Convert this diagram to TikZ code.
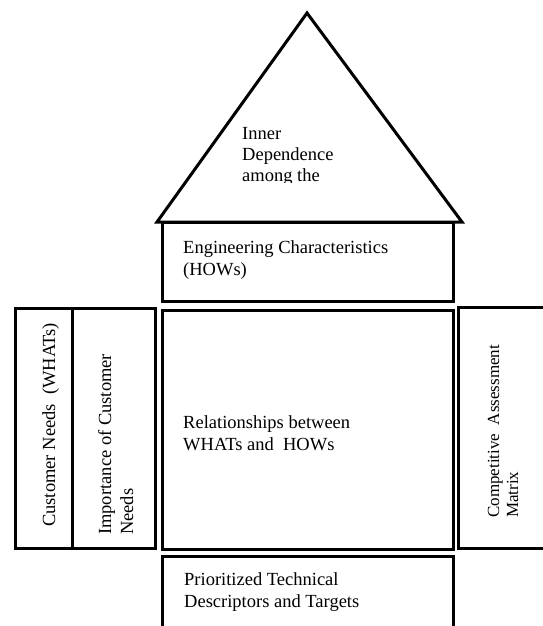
\documentclass[tikz,border=0pt]{standalone}
\usepackage{fontspec}
\setmainfont{Liberation Serif}
\usetikzlibrary{calc}

\begin{document}
\begin{tikzpicture}[
        x=1pt, y=-1pt,
        part/.style={draw, line width=3pt, inner sep=0pt},
        label/.style={anchor=base west, align=left, inner sep=0pt,
            font=\fontsize{18.5}{22}\selectfont}
    ]
        \clip (0, 0) rectangle (543, 626);

        % Roof
        \coordinate (apex) at (307, 13);
        \coordinate (eaveL) at (157, 222);
        \coordinate (eaveR) at (462, 222);
        \draw[line width=3pt, line join=miter] (apex) -- (eaveL) -- (eaveR) -- cycle;
        \begin{scope}
            \clip (160, 100) rectangle (460, 182.5);
            \node[label, font=\fontsize{18.5}{21}\selectfont] (roof) at (242, 181) {Inner\\Dependence\\among the};
        \end{scope}

        % Boxes
        \draw[part] (162, 222) rectangle (453, 301) node[pos=0] (eng) {};
        \draw[part] (162, 310) rectangle (453, 549) node[pos=0] (rel) {};
        \draw[part] (162, 556) rectangle (453, 640) node[pos=0] (prio) {};
        \draw[part] (15, 308) rectangle (72, 548) node[pos=0] (whats) {};
        \draw[part] (72, 308) rectangle (155, 548) node[pos=0] (imp) {};
        \draw[part] (458, 307) rectangle (560, 548) node[pos=0] (comp) {};

        % Texts
        \node[label] at ($(eng)+(21, 53)$) {Engineering Characteristics\\(HOWs)};
        \node[label] at ($(rel)+(21, 140)$) {Relationships between\\WHATs and\ \ HOWs};
        \node[label] at ($(prio)+(22, 51)$) {Prioritized Technical\\Descriptors and Targets};
        \node[label, rotate=90] at ($(whats)+(40, 219)$) {Customer Needs\ \ (WHATs)};
        \node[label, rotate=90] at ($(imp)+(61, 227)$) {Importance of Customer\\Needs};
        \node[label, rotate=90, font=\fontsize{17}{19}\selectfont] at ($(comp)+(60, 211)$) {Competitive\ \ Assessment\\Matrix};
    \end{tikzpicture}
\end{document}
